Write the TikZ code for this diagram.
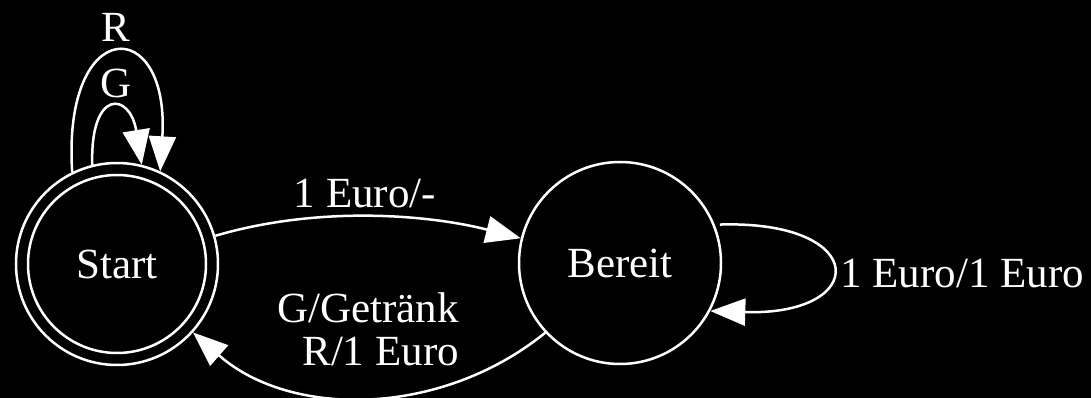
\documentclass[tikz,border=0pt]{standalone}
\usepackage{fontspec}
\setmainfont{Liberation Serif}
\usetikzlibrary{arrows.meta}
\begin{document}
\begin{tikzpicture}[x=1pt,y=-1pt,
  every node/.style={text=white,font=\fontsize{43}{46}\selectfont},
  state/.style={circle,draw=white,line width=2.5pt,minimum size=202pt,inner sep=0pt},
  trans/.style={draw=white,line width=2.5pt,-{Triangle[length=35pt,width=27pt]}},
  lbl/.style={anchor=base,inner sep=0pt}]
  % background and frame
  \fill[black] (0,0) rectangle (1091,398);
  \useasboundingbox (0,0) rectangle (1091,398);

  % states
  \node[state] (start) at (117,264) {Start};
  \draw[white,line width=2.5pt] (start.center) circle[radius=89];
  \node[state] (bereit) at (620,263) {Bereit};

  % self-loops on Start
  \draw[trans] (start.104) .. controls (90,88) and (130,92) .. (start.76);
  \node[lbl] (lG) at (116,98) {G};
  \draw[trans] (start.116) .. controls (62,14) and (170,14) .. (start.65);
  \node[lbl] (lR) at (116,42) {R};

  % Start -> Bereit
  \draw[trans] (start.16) .. controls (320,205) and (430,215) .. (bereit.166);
  \node[lbl] (l1) at (365,207) {1 Euro/-};

  % Bereit -> Start
  \draw[trans] (bereit.223) .. controls (440,418) and (290,418) .. (start.-42);
  \node[lbl,anchor=base east] (lGet) at (459,322) {G/Getränk};
  \node[lbl,anchor=base east] (lRet) at (459,365) {R/1 Euro};

  % self-loop on Bereit
  \draw[trans,shorten <=5pt] (bereit.22) .. controls (870,220) and (870,316) .. (bereit.-28);
  \node[lbl,anchor=base west] (lEE) at (840,287) {1 Euro/1 Euro};
\end{tikzpicture}
\end{document}
